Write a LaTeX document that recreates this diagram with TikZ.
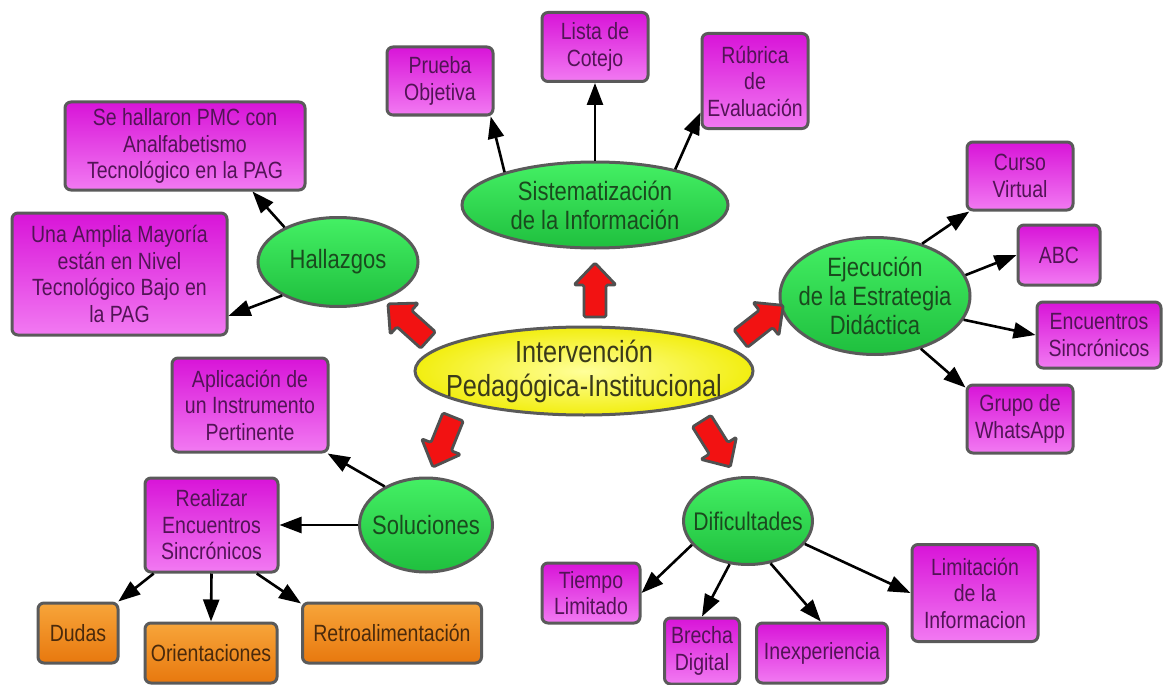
\documentclass[tikz,border=0pt]{standalone}
\usepackage{fontspec}
\setmainfont{Liberation Sans}[FakeStretch=0.83]
\usetikzlibrary{shapes.geometric,arrows.meta}
\definecolor{bordc}{HTML}{5A5A5A}
\definecolor{magT}{HTML}{D814D8}
\definecolor{magB}{HTML}{F27AF2}
\definecolor{magText}{HTML}{521456}
\definecolor{grT}{HTML}{44F064}
\definecolor{grB}{HTML}{1FBF3E}
\definecolor{grText}{HTML}{1A4A1E}
\definecolor{orT}{HTML}{F7A53A}
\definecolor{orB}{HTML}{E8780E}
\definecolor{orText}{HTML}{4A2A0C}
\definecolor{yelC}{HTML}{FFFF9A}
\definecolor{yelO}{HTML}{F2EE10}
\definecolor{yelText}{HTML}{3A3A1A}
\definecolor{redF}{HTML}{F21212}
\definecolor{redB}{HTML}{505050}
\begin{document}
\begin{tikzpicture}[x=1pt,y=-1pt,
  box/.style={draw=bordc, line width=3pt, rounded corners=6pt, inner sep=0pt,
    align=center, font=\fontsize{23.5}{26.5}\selectfont},
  mbox/.style={box, top color=magT, bottom color=magB, text=magText},
  obox/.style={box, top color=orT, bottom color=orB, text=orText},
  gell/.style={ellipse, draw=bordc, line width=3pt, inner sep=0pt,
    top color=grT, bottom color=grB},
  gtext/.style={align=center, inner sep=0pt, text=grText,
    font=\fontsize{26.5}{29}\selectfont},
  conn/.style={line width=2.6pt, -{Triangle[length=22pt,width=16pt]}},
  redarr/.pic={\draw[draw=redB, fill=redF, line width=2.8pt, line join=round,
    rounded corners=1.5pt]
    (-27,-11) -- (5,-11) -- (5,-21) -- (27,0) -- (5,21) -- (5,11) -- (-27,11) -- cycle;}
]
\useasboundingbox[fill=white] (0,0) rectangle (1163,685);

% centre
\node[ellipse, draw=bordc, line width=3pt, inner sep=0pt, inner color=yelC,
  outer color=yelO, minimum width=338pt, minimum height=88pt]
  (ctr) at (584,371) {};
\node[align=center, inner sep=0pt, text=yelText, font=\fontsize{30.5}{34}\selectfont]
  (ctrtxt) at (ctr.center) {Intervención\\Pedagógica-Institucional};

% green ellipses
\node[gell, minimum width=266pt, minimum height=86pt] (sis) at (595,205) {};
\node[gtext] (sistxt) at (sis.center) {Sistematización\\de la Información};
\node[gell, minimum width=160pt, minimum height=89pt] (hall) at (338,262) {};
\node[gtext] (halltxt) at (hall.center) {Hallazgos};
\node[gell, minimum width=190pt, minimum height=117pt] (eje) at (875,296) {};
\node[gtext] (ejetxt) at (eje.center) {Ejecución\\de la Estrategia\\Didáctica};
\node[gell, minimum width=133pt, minimum height=94pt] (sol) at (426,525) {};
\node[gtext] (soltxt) at (sol.center) {Soluciones};
\node[gell, minimum width=129pt, minimum height=87pt] (dif) at (748,521) {};
\node[gtext, font=\fontsize{25.5}{29}\selectfont] (diftxt) at (dif.center) {Dificultades};

% top boxes
\node[mbox, minimum width=106pt, minimum height=68pt] (prueba) at (440,81) {Prueba\\Objetiva};
\node[mbox, minimum width=106pt, minimum height=69pt] (lista) at (595,47) {Lista de\\Cotejo};
\node[mbox, minimum width=106pt, minimum height=95pt] (rub) at (755,81) {Rúbrica\\de\\Evaluación};

% left boxes
\node[mbox, minimum width=240pt, minimum height=88pt] (sehal) at (185,146)
  {Se hallaron PMC con\\Analfabetismo\\Tecnológico en la PAG};
\node[mbox, minimum width=215pt, minimum height=122pt] (una) at (119.5,274)
  {Una Amplia Mayoría\\están en Nivel\\Tecnológico Bajo en\\la PAG};

% right boxes
\node[mbox, minimum width=106pt, minimum height=68pt] (curso) at (1020,176) {Curso\\Virtual};
\node[mbox, minimum width=82pt, minimum height=60pt] (abc) at (1059,255) {ABC};
\node[mbox, minimum width=124pt, minimum height=66pt] (enc) at (1099,335) {Encuentros\\Sincrónicos};
\node[mbox, minimum width=106pt, minimum height=68pt] (grupo) at (1020,419) {Grupo de\\WhatsApp};

% bottom left
\node[mbox, minimum width=156pt, minimum height=94pt] (apl) at (250,405)
  {Aplicación de\\un Instrumento\\Pertinente};
\node[mbox, minimum width=133pt, minimum height=94pt] (real) at (211.5,525)
  {Realizar\\Encuentros\\Sincrónicos};
\node[obox, minimum width=80pt, minimum height=60pt] (dudas) at (78,633) {Dudas};
\node[obox, minimum width=132pt, minimum height=60pt] (orient) at (211,653) {Orientaciones};
\node[obox, minimum width=179pt, minimum height=60pt] (retro) at (392,633) {Retroalimentación};

% bottom right
\node[mbox, minimum width=98pt, minimum height=60pt] (tiempo) at (591,593) {Tiempo\\Limitado};
\node[mbox, minimum width=75pt, minimum height=66pt] (brecha) at (702,651) {Brecha\\Digital};
\node[mbox, minimum width=131pt, minimum height=60pt] (inexp) at (822,653) {Inexperiencia};
\node[mbox, minimum width=126pt, minimum height=97pt] (limit) at (975,593)
  {Limitación\\de la\\Informacion};

% red block arrows
\pic[rotate=90] at (595,290) {redarr};
\pic[rotate=138] at (408,322) {redarr};
\pic[rotate=38] at (762,322) {redarr};
\pic[rotate=-112] at (443,442) {redarr};
\pic[rotate=-58] at (716,444) {redarr};

% connectors
\draw[conn] (sis.160.5) -- (prueba.-35);
\draw[conn] (sis.north) -- (lista.south);
\draw[conn] (sis.24.8) -- (rub.-150);
\draw[conn] (hall.147.3) -- (sehal.-34);
\draw[conn] (hall.-149.6) -- (una.-21);
\draw[conn] (eje.48.6) -- (curso.-145);
\draw[conn] (eje.13.1) -- (abc.west);
\draw[conn] (eje.-15) -- (enc.west);
\draw[conn] (eje.-49) -- (grupo.150);
\draw[conn] (sol.137) -- (apl.-32);
\draw[conn] (sol.west) -- (real.east);
\draw[conn] (real.-140) -- (dudas.38);
\draw[conn] (real.south) -- (orient.north);
\draw[conn] (real.-47) -- (retro.162);
\draw[conn] (dif.-157.5) -- (tiempo.east);
\draw[conn] (dif.-113) -- (brecha.north);
\draw[conn] (dif.-62.4) -- (inexp.92);
\draw[conn] (dif.-22.8) -- (limit.west);
\end{tikzpicture}
\end{document}
